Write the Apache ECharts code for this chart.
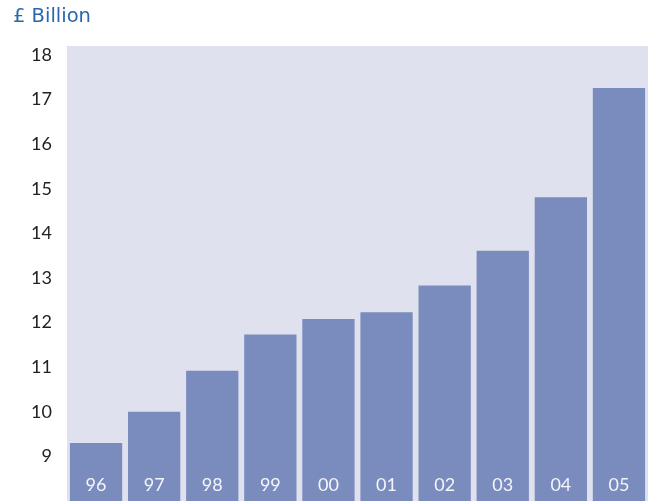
<!DOCTYPE html>
<html><head><meta charset="utf-8">
<script src="https://cdn.jsdelivr.net/npm/echarts@6/dist/echarts.min.js"></script>
<style>html,body{margin:0;padding:0;background:#fff}#c{width:648px;height:501px}</style>
</head><body><div id="c"></div>
<script>
const categories = ['96','97','98','99','00','01','02','03','04','05'];
const values = [9.30, 10.0, 10.92, 11.73, 12.08, 12.23, 12.83, 13.61, 14.81, 17.26];
const yTicks = [9,10,11,12,13,14,15,16,17,18];
const unitTitle = '£ Billion';

const chart = echarts.init(document.getElementById('c'), null, {renderer:'canvas'});
chart.setOption({
  animation: false,
  backgroundColor: '#ffffff',
  title: {
    text: unitTitle, left: 8, top: 2,
    textStyle: {fontFamily: 'DejaVu Sans', fontWeight: 'normal', fontSize: 19.5, color: '#2b67ad'}
  },
  grid: {left: 67, top: 46, width: 590, height: 459, show: true, backgroundColor: '#dfe2ee', borderWidth: 0},
  xAxis: {
    type: 'category', data: categories, z: 10,
    axisLine: {show: false}, axisTick: {show: false},
    axisLabel: {inside: true, margin: 16, color: '#f4f5fa', fontFamily: 'Lato', fontSize: 18, verticalAlign: 'middle'}
  },
  yAxis: {
    type: 'value', min: 8, max: 18.2, interval: 1,
    splitLine: {show: false}, axisLine: {show: false}, axisTick: {show: false},
    axisLabel: {
      margin: 15, color: '#222222', fontFamily: 'Lato', fontSize: 18,
      formatter: v => yTicks.includes(v) ? String(v) : ''
    }
  },
  series: [{
    type: 'bar', data: values, barCategoryGap: '10%',
    itemStyle: {color: '#7a8bbd'}
  }]
});
</script></body></html>
